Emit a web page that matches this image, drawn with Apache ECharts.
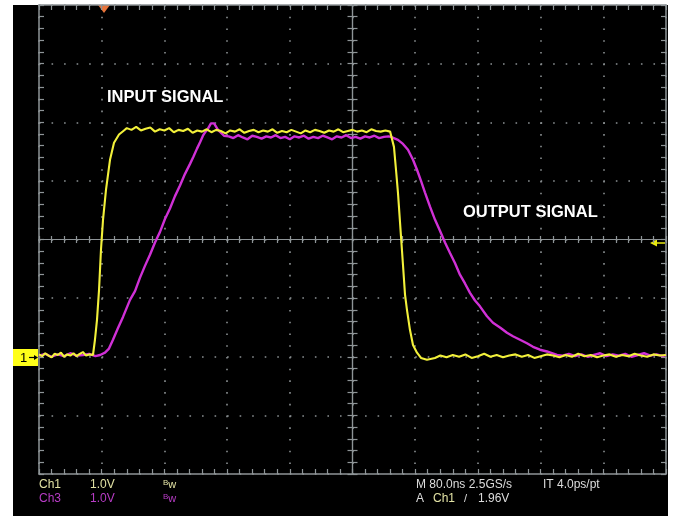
<!DOCTYPE html>
<html><head><meta charset="utf-8">
<script src="https://cdn.jsdelivr.net/npm/echarts@6/dist/echarts.min.js"></script>
<style>
html,body{margin:0;padding:0;background:#fff;width:676px;height:516px;overflow:hidden}
#bg{position:absolute;left:13px;top:5px;width:655px;height:511px;background:#000}
#chart{position:absolute;left:0;top:0;width:676px;height:516px}
</style></head><body>
<div id="bg"></div><div id="chart"></div>
<script>
// ---- axis settings (time in ns, 80 ns/div; volts, 1 V/div) ----
const timeMin = 0, timeMax = 800, timePerDiv = 80;
const voltMin = -2, voltMax = 6, voltPerDiv = 1;

// ---- Ch1 (yellow, INPUT SIGNAL) ----
const ch1Time = [0,4,8,12,16,20,24,28,32,36,40,44,48,52,56,60,64,
  68.9,71.4,74.0,76.6,79.1,81.7,85.5,90.6,95.7,102.1,108.4,
  112,118,124,130,136,142,148,154,160,166,172,178,184,190,196,202,208,214,220,226,232,238,244,250,256,262,268,274,280,286,292,298,304,310,316,322,328,334,340,346,352,358,364,370,376,382,388,394,400,406,412,418,424,430,436,442,448,
  449.1,452.9,455.5,458.0,461.9,464.4,467.0,469.5,473.3,477.2,482.3,487.4,495.0,505.2,
  512,520,528,536,544,552,560,568,576,584,592,600,608,616,624,632,640,648,656,664,672,680,688,696,704,712,720,728,736,744,752,760,768,776,784,792,800];
const ch1Volt = [0.04,0.01,0.06,0.02,-0.01,0.05,0.03,0.07,0.00,0.04,0.02,0.06,0.01,0.05,0.08,0.02,0.04,
  0.03,0.29,0.63,1.14,1.83,2.34,2.85,3.36,3.65,3.79,3.86,
  3.90,3.87,3.92,3.86,3.89,3.91,3.84,3.88,3.86,3.90,3.83,3.87,3.85,3.89,3.82,3.86,3.84,3.88,3.83,3.87,
  3.85,3.81,3.86,3.84,3.88,3.82,3.85,3.87,3.83,3.86,3.84,3.88,3.82,3.85,3.83,3.87,3.84,3.81,3.86,3.83,
  3.87,3.85,3.82,3.86,3.84,3.88,3.83,3.85,3.87,3.84,3.86,3.83,3.88,3.85,3.84,3.86,3.84,
  3.82,3.58,3.19,2.80,2.05,1.57,1.06,0.80,0.46,0.20,0.07,-0.02,-0.05,-0.02,
  0.02,-0.01,0.03,0.00,0.04,-0.02,0.01,0.05,0.00,0.03,-0.01,0.02,0.04,0.00,0.03,-0.02,0.01,0.04,0.02,-0.01,
  0.03,0.00,0.05,0.01,0.03,-0.01,0.02,0.04,0.00,0.03,0.01,0.05,0.02,0.00,0.04,0.02,0.03];

// ---- Ch3 (magenta, OUTPUT SIGNAL) ----
const ch3Time = [0,8,16,24,32,40,48,56,64,72,78,
  84.2,89.3,94.4,100.8,107.2,116.1,122.5,128.9,135.2,141.6,148.0,154.4,160.7,167.1,173.5,179.9,186.3,192.7,197.0,201.6,205.5,209.2,212.5,215.6,219.4,223.3,228.4,236.0,
  242,248,254,260,266,272,278,284,290,296,302,308,314,320,326,332,338,344,350,356,362,368,374,380,386,392,398,404,410,416,422,428,434,440,446,
  449.1,458.0,464.4,470.8,477.2,482.3,487.4,492.5,498.9,505.2,511.6,518.0,524.4,530.7,537.1,543.5,549.9,556.3,562.6,571.6,579.2,588.2,597.1,604.7,613.7,622.6,630.3,639.2,648.1,660.9,
  668,676,684,692,700,708,716,724,732,740,748,756,764,772,780,788,796,800];
const ch3Volt = [0.02,0.05,0.00,0.04,0.01,0.06,0.02,0.03,0.05,0.01,0.03,
  0.07,0.14,0.29,0.49,0.68,0.97,1.12,1.35,1.55,1.74,1.95,2.13,2.35,2.53,2.74,2.92,3.12,3.29,3.41,3.55,3.66,3.77,3.84,3.89,3.98,3.98,3.87,3.77,
  3.76,3.73,3.78,3.74,3.71,3.77,3.75,3.72,3.76,3.74,3.78,3.73,3.75,3.71,3.76,3.74,3.77,3.72,3.75,3.73,
  3.77,3.74,3.71,3.76,3.74,3.78,3.73,3.75,3.72,3.76,3.74,3.77,3.73,3.75,3.76,
  3.75,3.70,3.63,3.53,3.36,3.19,3.00,2.80,2.56,2.34,2.15,1.95,1.77,1.60,1.40,1.25,1.09,0.96,0.86,0.69,0.58,0.50,0.41,0.35,0.29,0.23,0.17,0.12,0.09,0.03,
  0.02,0.05,0.01,0.04,0.00,0.03,0.06,0.01,0.04,0.02,0.05,0.00,0.03,0.06,0.02,0.04,0.01,0.03];

const G = '#8e9497';
const DOT = '#8a9092';
function pair(t, v){ return t.map((x,i)=>[x, v[i]]); }

function mkX(position, opt){
  return {
    type:'value', min:timeMin, max:timeMax, interval:timePerDiv, position:position,
    offset: opt.offset||0,
    axisLabel:{show:false},
    axisLine:{show:true, onZero:false, lineStyle:{color:G, width:opt.lw||1.5}},
    axisTick:{show:true, inside:opt.inside, length:opt.len, lineStyle:{color:G, width:1.2}},
    minorTick:{show:true, splitNumber:5, length:opt.len, lineStyle:{color:G, width:1.2}},
    splitLine:{show:!!opt.split, lineStyle:{color:DOT, width:1.6, type:[1.6,10.13]}}
  };
}
function mkY(position, opt){
  return {
    type:'value', min:voltMin, max:voltMax, interval:voltPerDiv, position:position,
    offset: opt.offset||0,
    axisLabel:{show:false},
    axisLine:{show:true, onZero:false, lineStyle:{color:G, width:opt.lw||1.5}},
    axisTick:{show:true, inside:opt.inside, length:opt.len, lineStyle:{color:G, width:1.2}},
    minorTick:{show:true, splitNumber:5, length:opt.len, lineStyle:{color:G, width:1.2}},
    splitLine:{show:!!opt.split, lineStyle:{color:DOT, width:1.6, type:[1.6,10.94]}}
  };
}

const chart = echarts.init(document.getElementById('chart'), null, {renderer:'canvas'});
const txt = (s, x, y, color, size, weight, family) => ({
  type:'text', x:x, y:y, silent:true,
  style:{text:s, fill:color, font:(weight||'normal')+' '+size+'px '+(family||'"Liberation Sans", Arial, sans-serif'), textVerticalAlign:'middle'}
});
const bw = (x, y, color) => ({
  type:'text', x:x, y:y, silent:true,
  style:{text:'{b|B}{w|w}', textVerticalAlign:'middle',
    rich:{b:{fill:color, fontSize:8, fontFamily:'Liberation Sans', verticalAlign:'top', padding:[0,0,5,0]},
          w:{fill:color, fontSize:11, fontFamily:'Liberation Sans'}}}
});

chart.setOption({
  animation:false,
  backgroundColor:'transparent',
  grid:{left:39, top:5, width:627, height:469, show:false},
  xAxis:[
    mkX('bottom',{inside:true, len:5, split:true}),
    mkX('top',{inside:true, len:5}),
    mkX('bottom',{inside:true, len:3.5, offset:-234.5, lw:1.2}),
    mkX('bottom',{inside:false, len:3.5, offset:-234.5, lw:1.2})
  ],
  yAxis:[
    mkY('left',{inside:true, len:5, split:true}),
    mkY('right',{inside:true, len:5}),
    mkY('left',{inside:true, len:5, offset:-313.5, lw:1.2}),
    mkY('left',{inside:false, len:5, offset:-313.5, lw:1.2})
  ],
  series:[
    {name:'Ch3', type:'line', xAxisIndex:0, yAxisIndex:0, data:pair(ch3Time, ch3Volt),
     showSymbol:false, lineStyle:{color:'#d030d6', width:2.4}, z:3},
    {name:'Ch1', type:'line', xAxisIndex:0, yAxisIndex:0, data:pair(ch1Time, ch1Volt),
     showSymbol:false, lineStyle:{color:'#f2f03a', width:2.1}, z:4}
  ],
  graphic:[
    txt('INPUT SIGNAL', 107, 97, '#ffffff', 16.5, 'bold'),
    txt('OUTPUT SIGNAL', 463, 212, '#ffffff', 16.5, 'bold'),
    txt('Ch1', 39, 485, '#e2e2a4', 12),
    txt('1.0V', 90, 485, '#e2e2a4', 12),
    bw(163, 485, '#e2e2a4'),
    txt('Ch3', 39, 499, '#b83cc6', 12),
    txt('1.0V', 90, 499, '#b83cc6', 12),
    bw(163, 499, '#b83cc6'),
    txt('M 80.0ns 2.5GS/s', 416, 485, '#dcdcdc', 12),
    txt('IT 4.0ps/pt', 543, 485, '#dcdcdc', 12),
    txt('A', 416, 499, '#dcdcdc', 12),
    txt('Ch1', 433, 499, '#e2e2a4', 12),
    txt('/', 464, 499, '#dcdcdc', 11),
    txt('1.96V', 478, 499, '#dcdcdc', 12),
    {type:'rect', shape:{x:13, y:349, width:25, height:17}, style:{fill:'#ffff1a'}, silent:true},
    txt('1', 20, 358, '#000', 13),
    {type:'polyline', shape:{points:[[29,357.5],[36,357.5]]}, style:{stroke:'#000', lineWidth:1.2}, silent:true},
    {type:'polygon', shape:{points:[[38,357.5],[34,355],[34,360]]}, style:{fill:'#000'}, silent:true},
    {type:'polygon', shape:{points:[[98,5],[110,5],[104,13]]}, style:{fill:'#e8743a'}, silent:true},
    {type:'polygon', shape:{points:[[650,243],[657,239.5],[657,246.5]]}, style:{fill:'#eaea10'}, silent:true},
    {type:'polyline', shape:{points:[[656,243],[665,243]]}, style:{stroke:'#eaea10', lineWidth:1.5}, silent:true}
  ]
});
</script>
</body></html>
